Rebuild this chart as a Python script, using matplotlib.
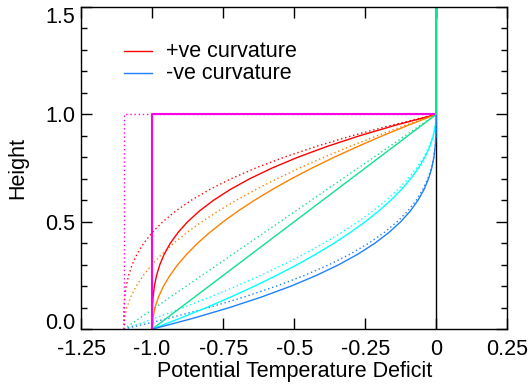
import matplotlib
matplotlib.use('Agg')
import matplotlib.pyplot as plt

plt.rcParams['font.family'] = ['Liberation Sans', 'DejaVu Sans']
plt.rcParams['font.size'] = 15.5

height = [0.0, 0.05, 0.1, 0.15, 0.2, 0.25, 0.3, 0.35, 0.4, 0.45, 0.5,
          0.55, 0.6, 0.65, 0.7, 0.75, 0.8, 0.85, 0.9, 0.95, 1.0]

# solid profiles (deficit from -1 to 0)
red_x = [-1.0, -0.9999, -0.999, -0.9966, -0.992, -0.9844, -0.973, -0.9571, -0.936, -0.9089, -0.875,
         -0.8336, -0.784, -0.7254, -0.657, -0.5781, -0.488, -0.3859, -0.271, -0.1426, 0.0]
orange_x = [-1.0, -0.9975, -0.99, -0.9775, -0.96, -0.9375, -0.91, -0.8775, -0.84, -0.7975, -0.75,
            -0.6975, -0.64, -0.5775, -0.51, -0.4375, -0.36, -0.2775, -0.19, -0.0975, 0.0]
cyan_x = [-1.0, -0.9025, -0.81, -0.7225, -0.64, -0.5625, -0.49, -0.4225, -0.36, -0.3025, -0.25,
          -0.2025, -0.16, -0.1225, -0.09, -0.0625, -0.04, -0.0225, -0.01, -0.0025, 0.0]
blue_x = [-1.0, -0.8574, -0.729, -0.6141, -0.512, -0.4219, -0.343, -0.2746, -0.216, -0.1664, -0.125,
          -0.0911, -0.064, -0.0429, -0.027, -0.0156, -0.008, -0.0034, -0.001, -0.0001, 0.0]

# dotted profiles (deficit from -1.1 to 0)
red_dot_x = [-1.1, -1.0999, -1.0989, -1.0963, -1.0912, -1.0828, -1.0703, -1.0528, -1.0296, -0.9998, -0.9625,
             -0.917, -0.8624, -0.7979, -0.7227, -0.6359, -0.5368, -0.4245, -0.2981, -0.1569, 0.0]
orange_dot_x = [-1.1, -1.0973, -1.089, -1.0753, -1.056, -1.0313, -1.001, -0.9653, -0.924, -0.8773, -0.825,
                -0.7673, -0.704, -0.6353, -0.561, -0.4813, -0.396, -0.3053, -0.209, -0.1073, 0.0]
cyan_dot_x = [-1.1, -0.9928, -0.891, -0.7948, -0.704, -0.6188, -0.539, -0.4648, -0.396, -0.3328, -0.275,
              -0.2228, -0.176, -0.1348, -0.099, -0.0688, -0.044, -0.0248, -0.011, -0.0028, 0.0]
blue_dot_x = [-1.1, -0.9431, -0.8019, -0.6755, -0.5632, -0.4641, -0.3773, -0.3021, -0.2376, -0.183, -0.1375,
              -0.1002, -0.0704, -0.0472, -0.0297, -0.0172, -0.0088, -0.0037, -0.0011, -0.0001, 0.0]

# straight line and step profiles
line_h = [0.0, 1.0]
green_x = [-1.0, 0.0]
green_dot_x = [-1.1, 0.0]
step_h = [0.0, 1.0, 1.0]
step_x = [-1.0, -1.0, 0.0]
step_dot_x = [-1.1, -1.1, 0.0]

xticks = [-1.25, -1.0, -0.75, -0.5, -0.25, 0.0, 0.25]
xticklabels = ['-1.25', '-1.0', '-0.75', '-0.5', '-0.25', '0', '0.25']
yticks = [0.0, 0.5, 1.0, 1.5]
legend_labels = ['+ve curvature', '-ve curvature']

c_red = '#FF0000'
c_orange = '#FF8000'
c_green = '#10E090'
c_cyan = '#00FFFF'
c_blue = '#1E80FF'
c_mag = '#FF00E6'

fig = plt.figure(figsize=(5.3, 3.9), dpi=100)
ax = fig.add_axes([0.153, 0.156, 0.804, 0.826])

dot = (0, (1, 2))
lw = 1.0

# zero line
ax.plot([0, 0], [0, 1.5], color='black', lw=1.0)

for xs, c in [(red_dot_x, c_red), (orange_dot_x, c_orange), (cyan_dot_x, c_cyan), (blue_dot_x, c_blue)]:
    ax.plot(xs, height, color=c, lw=lw, linestyle=dot)
ax.plot(green_dot_x, line_h, color=c_green, lw=lw, linestyle=dot)
ax.plot(step_dot_x, step_h, color=c_mag, lw=lw, linestyle=dot)

ax.plot(red_x, height, color=c_red, lw=lw)
ax.plot(orange_x, height, color=c_orange, lw=lw)
ax.plot(green_x, line_h, color=c_green, lw=lw)
ax.plot(cyan_x, height, color=c_cyan, lw=lw)
ax.plot(blue_x, height, color=c_blue, lw=lw)
ax.plot(step_x, step_h, color=c_mag, lw=1.5)
ax.plot([0, 0], [1.0, 1.5], color=c_green, lw=1.5)

ax.set_xlim(-1.25, 0.25)
ax.set_ylim(0, 1.5)
ax.set_xticks(xticks)
ax.set_xticklabels(xticklabels)
ax.set_yticks(yticks)
ax.set_yticklabels(['%.1f' % v for v in yticks])
ax.set_yticks([0.1, 0.2, 0.3, 0.4, 0.6, 0.7, 0.8, 0.9, 1.1, 1.2, 1.3, 1.4], minor=True)
ax.tick_params(which='both', direction='in', top=True, right=True, width=1.0)
ax.tick_params(which='major', length=8)
ax.tick_params(axis='x', which='major', pad=7)
ax.tick_params(axis='y', which='major', pad=4)
ax.tick_params(which='minor', length=4)
for s in ax.spines.values():
    s.set_linewidth(1.0)

# IDL nudges the end labels inside the axis range
ylabs = ax.get_yticklabels()
ylabs[0].set_va('baseline')
ylabs[-1].set_va('top')

ax.set_xlabel('Potential Temperature Deficit')
ax.xaxis.set_label_coords(0.5, -0.1)
ax.set_ylabel('Height')
ax.yaxis.set_label_coords(-0.125, 0.5)

# legend drawn by hand, IDL style
for i, (lab, c) in enumerate(zip(legend_labels, [c_red, c_blue])):
    yy = 0.862 - 0.068 * i
    ax.plot([0.101, 0.167], [yy, yy], color=c, lw=1.0, transform=ax.transAxes)
    ax.text(0.1995, yy - 0.016, lab, transform=ax.transAxes, va='baseline', ha='left')

fig.savefig('out.png', dpi=100)
